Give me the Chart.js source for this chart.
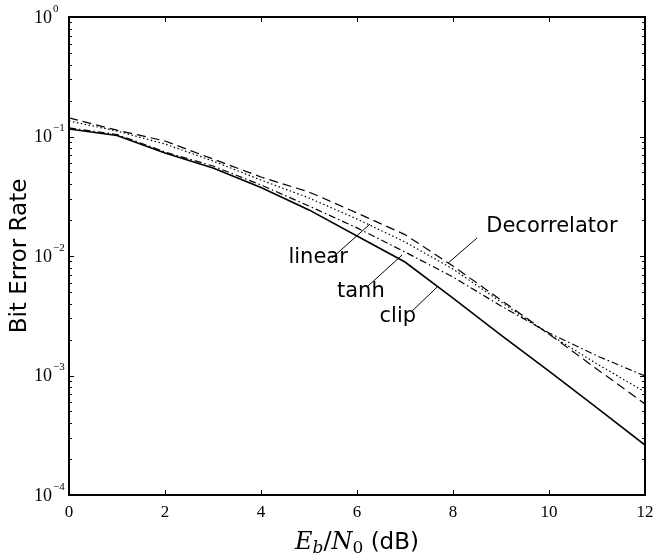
<!DOCTYPE html>
<html>
<head>
<meta charset="utf-8">
<script src="https://cdn.jsdelivr.net/npm/chart.js@4.4.1/dist/chart.umd.min.js"></script>
<style>
  html, body { margin: 0; padding: 0; background: #fff; }
</style>
</head>
<body>
<canvas id="chart" width="656" height="556"></canvas>
<script>
// Eb/N0 in dB, one point per dB
const snr_db = [0, 1, 2, 3, 4, 5, 6, 7, 8, 9, 10, 11, 12]

// bit error rates
const ber_clip = [0.1155, 0.102, 0.0728, 0.0545, 0.0374, 0.0243, 0.0147, 0.0089, 0.00445, 0.00218, 0.00109, 0.000535, 0.000262]
const ber_tanh = [0.118, 0.104, 0.0742, 0.0566, 0.0393, 0.0262, 0.0172, 0.0108, 0.00667, 0.00382, 0.00227, 0.00146, 0.00099]
const ber_linear = [0.135, 0.111, 0.0865, 0.0624, 0.0432, 0.0306, 0.0204, 0.0131, 0.00778, 0.00412, 0.00222, 0.00125, 0.000728]
const ber_decorr = [0.143, 0.113, 0.0917, 0.0648, 0.0458, 0.0343, 0.0229, 0.0151, 0.00824, 0.00428, 0.00222, 0.00113, 0.000578]

const x_ticks = [0, 2, 4, 6, 8, 10, 12]
const y_decades = [-4, -3, -2, -1, 0]

// text labels with leader lines, in data units (dB, BER)
const note_text = ["linear", "tanh", "clip", "Decorrelator"]
const note_at = [[5.19, 0.00962], [6.08, 0.00509], [6.85, 0.00309], [10.06, 0.0178]]
const note_from = [[5.48, 0.00962], [6.23, 0.00561], [7.15, 0.00347], [7.90, 0.00874]]
const note_to = [[6.27, 0.0185], [6.94, 0.0102], [7.67, 0.0055], [8.5, 0.01415]]

const SANS = '"DejaVu Sans", sans-serif'
const SERIF = '"Liberation Serif", "DejaVu Serif", serif'
const MATH = '"DejaVu Serif", serif'

function series(label, data, dash, width) {
    return {
        label,
        data: snr_db.map((x, i) => ({x, y: data[i]})),
        borderColor: '#000',
        borderWidth: width,
        borderDash: dash,
        pointRadius: 0,
        tension: 0,
        fill: false,
    }
}

// MATLAB-ish frame: box, inward ticks on all sides, 10^n labels, notes, titles
const framePlugin = {
    id: 'frame',
    afterDatasetsDraw(chart) {
        let ctx = chart.ctx
        let xs = chart.scales.x
        let ys = chart.scales.y
        let {left, right, top, bottom} = chart.chartArea
        ctx.save()
        ctx.strokeStyle = '#000'
        ctx.fillStyle = '#000'

        // ticks
        ctx.lineWidth = 1
        ctx.beginPath()
        for (let t of x_ticks) {
            let px = Math.round(xs.getPixelForValue(t)) + 0.5
            ctx.moveTo(px, bottom); ctx.lineTo(px, bottom - 5)
            ctx.moveTo(px, top); ctx.lineTo(px, top + 5)
        }
        for (let d of y_decades) {
            for (let m = 1; m <= 9; m++) {
                let v = m * Math.pow(10, d)
                if (v > 1) break
                let py = Math.round(ys.getPixelForValue(v)) + 0.5
                let len = m == 1 ? 5 : 3
                ctx.moveTo(left, py); ctx.lineTo(left + len, py)
                ctx.moveTo(right, py); ctx.lineTo(right - len, py)
            }
        }
        ctx.stroke()

        // box
        ctx.lineWidth = 2
        ctx.strokeRect(left, top, right - left, bottom - top)

        // x tick labels
        ctx.font = '17px ' + SERIF
        ctx.textAlign = 'center'
        ctx.textBaseline = 'top'
        for (let t of x_ticks) {
            ctx.fillText(String(t), xs.getPixelForValue(t), bottom + 9)
        }

        // y tick labels as 10^n
        for (let d of y_decades) {
            let py = ys.getPixelForValue(Math.pow(10, d))
            ctx.font = '18px ' + SERIF
            ctx.textAlign = 'right'
            ctx.textBaseline = 'middle'
            ctx.fillText('10', left - 17, py + 1)
            ctx.font = '11px ' + SERIF
            ctx.textAlign = 'left'
            ctx.fillText(d == 0 ? '0' : '\u2212' + (-d), left - 16, py - 8)
        }

        // notes
        ctx.lineWidth = 1
        ctx.font = '21px ' + SANS
        ctx.textAlign = 'center'
        ctx.textBaseline = 'middle'
        for (let i = 0; i < note_text.length; i++) {
            ctx.beginPath()
            ctx.moveTo(xs.getPixelForValue(note_from[i][0]), ys.getPixelForValue(note_from[i][1]))
            ctx.lineTo(xs.getPixelForValue(note_to[i][0]), ys.getPixelForValue(note_to[i][1]))
            ctx.stroke()
            ctx.fillText(note_text[i], xs.getPixelForValue(note_at[i][0]), ys.getPixelForValue(note_at[i][1]))
        }

        // y title
        ctx.save()
        ctx.translate(20, (top + bottom) / 2)
        ctx.rotate(-Math.PI / 2)
        ctx.font = '23px ' + SANS
        ctx.textAlign = 'center'
        ctx.textBaseline = 'middle'
        ctx.fillText('Bit Error Rate', 0, 0)
        ctx.restore()

        // x title: E_b/N_0 (dB)
        let parts = [
            {t: 'E', f: 'italic 24px ' + MATH, dy: 0},
            {t: 'b', f: 'italic 17px ' + MATH, dy: 4},
            {t: '/', f: '24px ' + MATH, dy: 0},
            {t: 'N', f: 'italic 24px ' + MATH, dy: 0},
            {t: '0', f: '17px ' + MATH, dy: 4},
            {t: ' (dB)', f: '23px ' + SANS, dy: 0},
        ]
        let total = 0
        for (let p of parts) {
            ctx.font = p.f
            p.w = ctx.measureText(p.t).width
            total += p.w
        }
        let x = (left + right) / 2 - total / 2
        let base = bottom + 54
        ctx.textAlign = 'left'
        ctx.textBaseline = 'alphabetic'
        for (let p of parts) {
            ctx.font = p.f
            ctx.fillText(p.t, x, base + p.dy)
            x += p.w
        }
        ctx.restore()
    }
}

new Chart(document.getElementById('chart'), {
    type: 'line',
    data: {
        datasets: [
            series('clip', ber_clip, [], 1.6),
            series('tanh', ber_tanh, [7, 3, 1.5, 3], 1.2),
            series('linear', ber_linear, [1.5, 2.5], 1.2),
            series('Decorrelator', ber_decorr, [9, 5], 1.2),
        ]
    },
    options: {
        responsive: false,
        animation: false,
        devicePixelRatio: 1,
        layout: { padding: { left: 69, right: 11, top: 17, bottom: 61 } },
        plugins: { legend: { display: false }, tooltip: { enabled: false } },
        scales: {
            x: {
                type: 'linear', min: 0, max: 12,
                ticks: { display: false },
                grid: { display: false },
                border: { display: false },
                afterFit: (s) => { s.height = 0 },
            },
            y: {
                type: 'logarithmic', min: 1e-4, max: 1,
                ticks: { display: false },
                grid: { display: false },
                border: { display: false },
                afterFit: (s) => { s.width = 0 },
            }
        }
    },
    plugins: [framePlugin]
})
</script>
</body>
</html>
